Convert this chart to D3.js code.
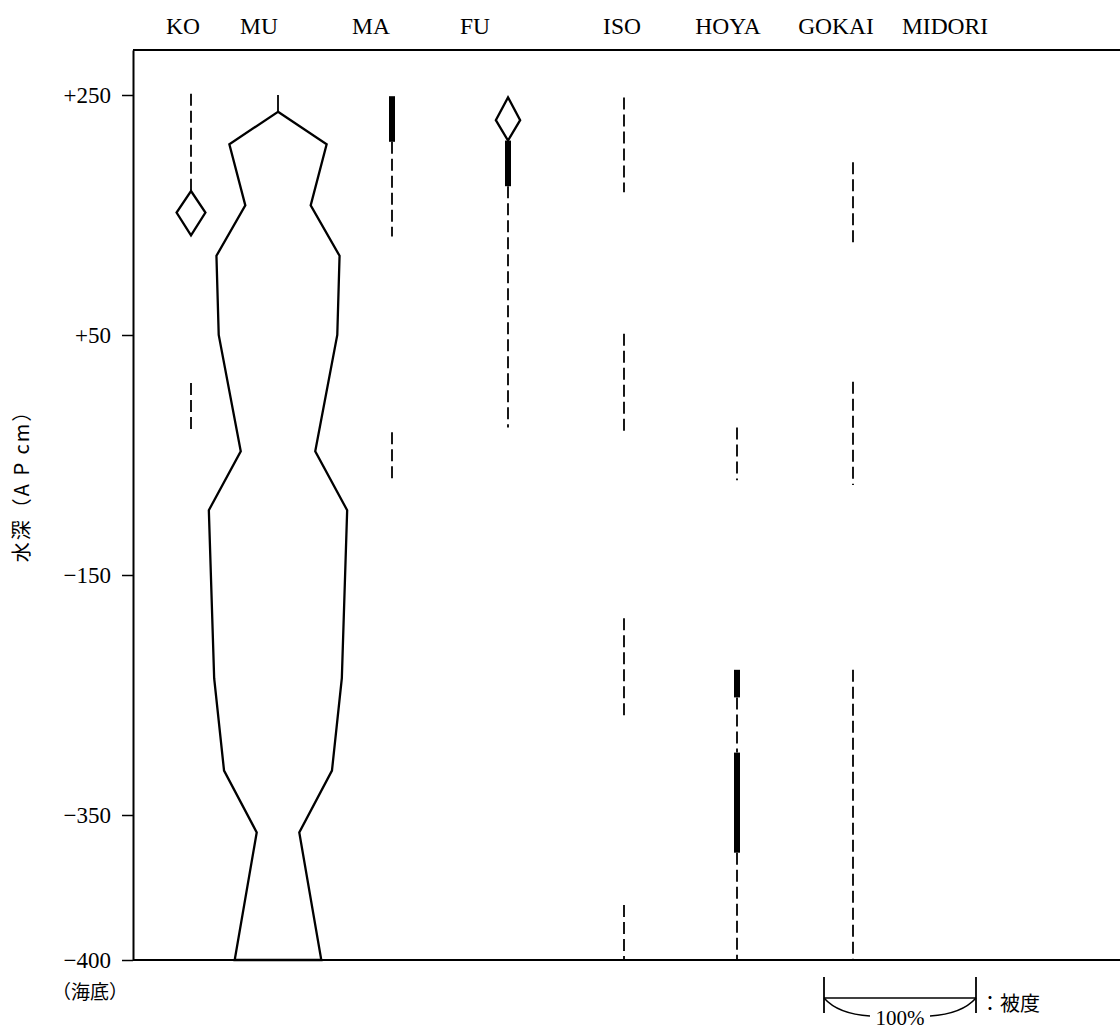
<!DOCTYPE html>
<html>
<head>
<meta charset="utf-8">
<script src="https://cdn.jsdelivr.net/npm/d3@7"></script>
<style>
	body { margin: 0; background: #fff; }
	svg { display: block; }
	.serif { font-family: "Liberation Serif", "DejaVu Serif", serif; }
	.cjk { font-family: "Noto Sans CJK JP", sans-serif; }
</style>
</head>
<body>
<svg id="chart" width="1120" height="1030"></svg>
<script>
const species = ['KO', 'MU', 'MA', 'FU', 'ISO', 'HOYA', 'GOKAI', 'MIDORI']

// depth ticks (AP cm)
const tickValues = [250, 50, -150, -350, -400]
const tickLabels = ['+250', '+50', '\u2212150', '\u2212350', '\u2212400']

// kite outlines: depth vs cover (%)
const muDepth = [236, 209, 158, 116, 50, -47, -96, -236, -313, -356, -400]
const muCover = [0, 64, 43, 81, 78, 49, 91, 84, 71, 28, 57]
const koDepth = [170, 152, 133]
const koCover = [0, 19, 0]
const fuDepth = [248, 229, 212]
const fuCover = [0, 16, 0]

// presence runs: [species, top, bottom, kind]
const runs = [
	['KO', 251, 170, 'rare'],
	['KO', 10, -32, 'rare'],
	['MU', 250, 236, 'line'],
	['MA', 249, 211, 'few'],
	['MA', 211, 132, 'rare'],
	['MA', -31, -71, 'rare'],
	['FU', 212, 174, 'few'],
	['FU', 174, -27, 'rare'],
	['ISO', 248, 169, 'rare'],
	['ISO', 51, -32, 'rare'],
	['ISO', -186, -269, 'rare'],
	['ISO', -381, -400, 'rare'],
	['HOYA', -27, -71, 'rare'],
	['HOYA', -229, -252, 'few'],
	['HOYA', -252, -298, 'rare'],
	['HOYA', -298, -363, 'few'],
	['HOYA', -363, -400, 'rare'],
	['GOKAI', 194, 127, 'rare'],
	['GOKAI', 11, -75, 'rare'],
	['GOKAI', -229, -400, 'rare']
]

const svg = d3.select('#chart')
const plotLeft = 133, plotRight = 1120, plotTop = 50, plotBottom = 960

// the sea floor (-400) sits lower than the linear scale would put it
const y = d3.scaleLinear()
	.domain([287.5, -350, -400])
	.range([plotTop, 815, plotBottom])

const colX = d3.scaleOrdinal()
	.domain(species)
	.range([191, 278, 392, 508, 624, 737, 853, 969])

const labelX = d3.scaleOrdinal()
	.domain(species)
	.range([183, 259, 371, 475, 622, 728, 836, 945])

const half = d3.scaleLinear().domain([0, 100]).range([0, 76])

// frame
svg.append('line')
	.attr('x1', plotLeft).attr('x2', plotRight)
	.attr('y1', plotTop).attr('y2', plotTop)
	.attr('stroke', '#000').attr('stroke-width', 2)
svg.append('line')
	.attr('x1', plotLeft).attr('x2', plotRight)
	.attr('y1', plotBottom).attr('y2', plotBottom)
	.attr('stroke', '#000').attr('stroke-width', 2)

const axis = svg.append('g')
	.attr('transform', `translate(${plotLeft},0)`)
	.call(d3.axisLeft(y)
		.tickValues(tickValues)
		.tickFormat((d, i) => tickLabels[i])
		.tickSize(11)
		.tickSizeOuter(0)
		.tickPadding(11))
axis.select('.domain').attr('stroke-width', 2)
axis.selectAll('.tick line').attr('stroke-width', 1.5)
axis.selectAll('.tick text')
	.attr('class', 'serif')
	.attr('font-size', 23)
	.attr('fill', '#000')

// column headings
svg.selectAll('.head')
	.data(species)
	.enter()
		.append('text')
		.attr('class', 'head serif')
		.attr('x', (d) => labelX(d))
		.attr('y', 34)
		.attr('text-anchor', 'middle')
		.attr('font-size', 23.5)
		.text((d) => d)

// presence runs
const runStyle = {
	rare: { w: 1.8, dash: '12,5' },
	few: { w: 6, dash: null },
	line: { w: 1.8, dash: null }
}
svg.selectAll('.run')
	.data(runs)
	.enter()
		.append('line')
		.attr('class', 'run')
		.attr('x1', (d) => colX(d[0]))
		.attr('x2', (d) => colX(d[0]))
		.attr('y1', (d) => y(d[1]))
		.attr('y2', (d) => y(d[2]))
		.attr('stroke', '#000')
		.attr('stroke-width', (d) => runStyle[d[3]].w)
		.attr('stroke-dasharray', (d) => runStyle[d[3]].dash)

// kites
const kites = [
	{ sp: 'MU', depth: muDepth, cover: muCover },
	{ sp: 'KO', depth: koDepth, cover: koCover },
	{ sp: 'FU', depth: fuDepth, cover: fuCover }
]
kites.forEach((k) => {
	const pts = k.depth.map((d, i) => ({ depth: d, cover: k.cover[i] }))
	const area = d3.area()
		.x0((p) => colX(k.sp) - half(p.cover))
		.x1((p) => colX(k.sp) + half(p.cover))
		.y((p) => y(p.depth))
	svg.append('path')
		.attr('d', area(pts))
		.attr('fill', 'none')
		.attr('stroke', '#000')
		.attr('stroke-width', 2.3)
		.attr('stroke-linejoin', 'miter')
})

// axis title
svg.append('text')
	.attr('class', 'cjk')
	.attr('transform', 'translate(29,481) rotate(-90)')
	.attr('text-anchor', 'middle')
	.attr('font-size', 20)
	.attr('letter-spacing', 2)
	.text('水深（A P cm）')

svg.append('text')
	.attr('class', 'cjk')
	.attr('x', 52)
	.attr('y', 999)
	.attr('font-size', 19)
	.text('（海底）')

// cover scale
const lx = 824, ly = 998, lw = half(100) * 2
const legend = svg.append('g').attr('stroke', '#000').attr('fill', 'none')
legend.append('line')
	.attr('x1', lx).attr('x2', lx + lw)
	.attr('y1', ly).attr('y2', ly)
	.attr('stroke-width', 1.5)
;[lx, lx + lw].forEach((x) => {
	legend.append('line')
		.attr('x1', x).attr('x2', x)
		.attr('y1', 977).attr('y2', 1013)
		.attr('stroke-width', 1.8)
})
const brace = d3.path()
brace.moveTo(lx, ly)
brace.quadraticCurveTo(lx + 14, 1014, lx + 46, 1016)
brace.moveTo(lx + lw, ly)
brace.quadraticCurveTo(lx + lw - 14, 1014, lx + lw - 46, 1016)
legend.append('path').attr('d', brace.toString()).attr('stroke-width', 1.5)

svg.append('text')
	.attr('class', 'serif')
	.attr('x', lx + lw / 2)
	.attr('y', 1025)
	.attr('text-anchor', 'middle')
	.attr('font-size', 21)
	.text('100%')

svg.append('text')
	.attr('class', 'cjk')
	.attr('x', 980)
	.attr('y', 1011)
	.attr('font-size', 20)
	.text('：被度')
</script>
</body>
</html>
